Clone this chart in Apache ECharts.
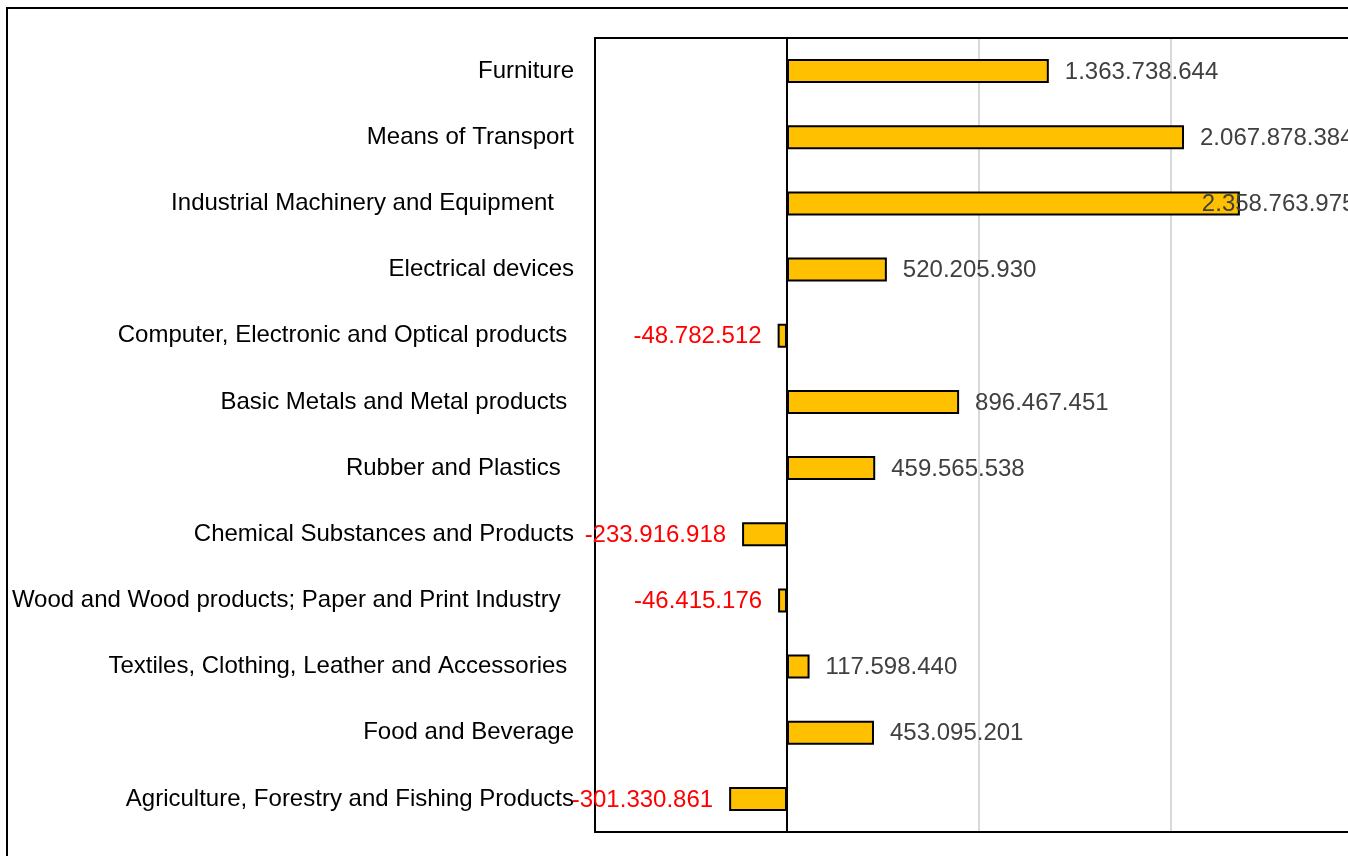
<!DOCTYPE html>
<html>
<head>
<meta charset="utf-8">
<script src="https://cdn.jsdelivr.net/npm/echarts@6/dist/echarts.min.js"></script>
<style>
  html, body { margin: 0; padding: 0; background: #fff; }
  #main { width: 1348px; height: 856px; }
</style>
</head>
<body>
<div id="main"></div>
<script>
// categories top to bottom (trailing spaces kept as in the source)
var categories = [
    'Furniture',
    'Means of Transport',
    'Industrial Machinery and Equipment   ',
    'Electrical devices',
    'Computer, Electronic and Optical products ',
    'Basic Metals and Metal products ',
    'Rubber and Plastics  ',
    'Chemical Substances and Products',
    'Wood and Wood products; Paper and Print Industry  ',
    'Textiles, Clothing, Leather and Accessories ',
    'Food and Beverage',
    'Agriculture, Forestry and Fishing Products'
];
var values = [
    1363738644,
    2067878384,
    2358763975,
    520205930,
    -48782512,
    896467451,
    459565538,
    -233916918,
    -46415176,
    117598440,
    453095201,
    -301330861
];
// the source axis runs -1e9..3e9 but its right end is cut off by the frame
var axisMin = -1000000000;
var axisMax = 2922000000;
var axisStep = 1000000000;

var fontFamily = '"Liberation Sans", Arial, sans-serif';

function formatDots(v) {
    var s = String(Math.abs(v)).replace(/\B(?=(\d{3})+(?!\d))/g, '.');
    return (v < 0 ? '-' : '') + s;
}

var barData = values.map(function (v, i) {
    var item = {
        value: v,
        label: {
            position: v < 0 ? 'left' : 'right',
            color: v < 0 ? '#ff0000' : '#404040',
            offset: [0, 1]
        }
    };
    // the largest label was pushed back over the bar end in the source
    if (i === 2) {
        item.label.offset = [-54, 1];
    }
    return item;
});

var blackLine = { show: true, onZero: false, lineStyle: { color: '#000', width: 2 } };

var myChart = echarts.init(document.getElementById('main'));
myChart.setOption({
    animation: false,
    backgroundColor: '#fff',
    graphic: [
        {
            type: 'rect',
            shape: { x: 7, y: 8, width: 1400, height: 900 },
            style: { fill: 'none', stroke: '#000', lineWidth: 2 }
        }
    ],
    grid: {
        left: 595,
        top: 38,
        bottom: 24,
        right: 0,
        containLabel: false
    },
    xAxis: [
        {
            type: 'value',
            position: 'bottom',
            min: axisMin,
            max: axisMax,
            interval: axisStep,
            axisLabel: { show: false },
            axisTick: { show: false },
            axisLine: blackLine,
            splitLine: {
                show: true,
                showMinLine: false,
                showMaxLine: false,
                lineStyle: { color: '#d9d9d9', width: 2 }
            }
        },
        {
            type: 'value',
            position: 'top',
            min: axisMin,
            max: axisMax,
            interval: axisStep,
            axisLabel: { show: false },
            axisTick: { show: false },
            axisLine: blackLine,
            splitLine: { show: false }
        }
    ],
    yAxis: {
        type: 'category',
        inverse: true,
        data: categories,
        axisLine: blackLine,
        axisTick: { show: false },
        axisLabel: {
            margin: 21,
            color: '#000',
            fontSize: 24,
            fontFamily: fontFamily
        }
    },
    series: [
        {
            type: 'bar',
            xAxisIndex: 0,
            data: barData,
            barWidth: 24,
            itemStyle: {
                color: '#ffc000',
                borderColor: '#000',
                borderWidth: 2
            },
            label: {
                show: true,
                distance: 16,
                fontSize: 24,
                fontFamily: fontFamily,
                formatter: function (p) { return formatDots(p.value); }
            },
            markLine: {
                silent: true,
                symbol: 'none',
                label: { show: false },
                lineStyle: { color: '#000', type: 'solid', width: 2 },
                data: [{ xAxis: 0 }]
            }
        }
    ]
});
</script>
</body>
</html>
